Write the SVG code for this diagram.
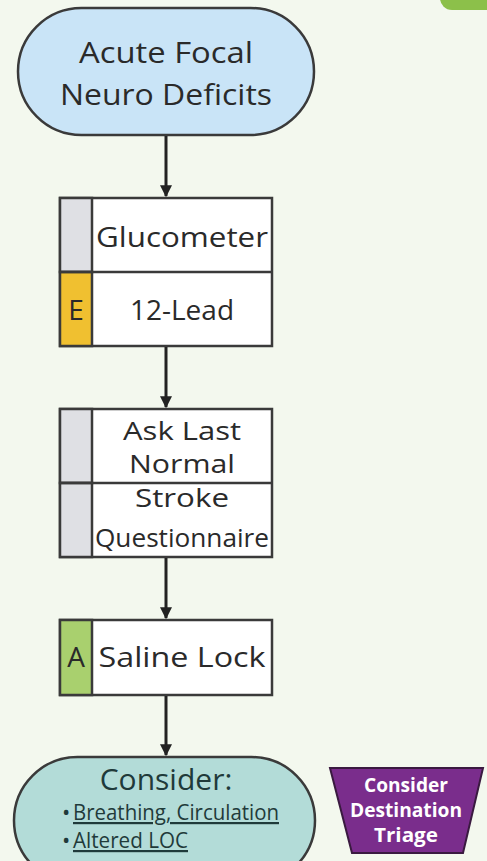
<svg xmlns="http://www.w3.org/2000/svg" width="487" height="861" viewBox="0 0 487 861">
<defs>
<marker id="ah" viewBox="0 0 10 10" refX="9" refY="5" markerWidth="12" markerHeight="12" orient="auto" markerUnits="userSpaceOnUse">
<path d="M0,0 L10,5 L0,10 z" fill="#222"/>
</marker>
</defs>
<style>
.bg{fill:#f3f8ee}
.box{stroke:#3a3a3a;stroke-width:2.5}
.t{font-family:"Open Sans","Noto Sans",sans-serif;fill:#2a2a2a;text-anchor:middle}
.c{font-family:"Open Sans","Noto Sans",sans-serif;fill:#1f3a3a}
.w{font-family:"Open Sans","Noto Sans",sans-serif;fill:#fff;font-weight:bold;text-anchor:middle}
.conn{stroke:#222;stroke-width:3;fill:none}
</style>
<rect class="bg" x="0" y="0" width="487" height="861"/>
<rect x="440" y="-30" width="80" height="40" rx="12" fill="#8cc04a"/>
<g id="start">
<rect class="box" x="18" y="8" width="296" height="127" rx="63.5" fill="#c9e4f7"/>
<text class="t" x="166" y="63" font-size="29" textLength="174" lengthAdjust="spacingAndGlyphs">Acute Focal</text>
<text class="t" x="166" y="105" font-size="29" textLength="212" lengthAdjust="spacingAndGlyphs">Neuro Deficits</text>
</g>
<g id="box1">
<rect class="box" x="60" y="198" width="212" height="148" fill="#fff"/>
<rect x="60" y="198" width="32" height="74" fill="#dfe0e4" class="box"/>
<rect x="60" y="272" width="32" height="74" fill="#f0c030" class="box"/>
<line class="box" x1="60" y1="272" x2="272" y2="272"/>
<text class="t" x="182" y="247" font-size="28" textLength="172" lengthAdjust="spacingAndGlyphs">Glucometer</text>
<text class="t" x="182" y="320" font-size="28">12-Lead</text>
<text class="t" x="76" y="320" font-size="28">E</text>
</g>
<g id="box2">
<rect class="box" x="60" y="409" width="212" height="148" fill="#fff"/>
<rect x="60" y="409" width="32" height="74" fill="#dfe0e4" class="box"/>
<rect x="60" y="483" width="32" height="74" fill="#dfe0e4" class="box"/>
<line class="box" x1="60" y1="483" x2="272" y2="483"/>
<text class="t" x="182" y="440" font-size="25" textLength="118" lengthAdjust="spacingAndGlyphs">Ask Last</text>
<text class="t" x="182" y="473" font-size="25" textLength="106" lengthAdjust="spacingAndGlyphs">Normal</text>
<text class="t" x="182" y="507" font-size="25" textLength="94" lengthAdjust="spacingAndGlyphs">Stroke</text>
<text class="t" x="182" y="547" font-size="25" textLength="174" lengthAdjust="spacingAndGlyphs">Questionnaire</text>
</g>
<g id="box3">
<rect class="box" x="60" y="620" width="212" height="75" fill="#fff"/>
<rect x="60" y="620" width="32" height="75" fill="#a9d06e" class="box"/>
<text class="t" x="76" y="667" font-size="28">A</text>
<text class="t" x="182" y="667" font-size="28" textLength="167" lengthAdjust="spacingAndGlyphs">Saline Lock</text>
</g>
<g id="consider">
<rect class="box" x="14" y="757" width="301" height="127" rx="63.5" fill="#b3dcd8"/>
<text class="c" x="166" y="790" font-size="30" text-anchor="middle">Consider:</text>
<text class="c" x="62" y="820" font-size="22">•</text>
<text class="c" x="73" y="820" font-size="22" text-decoration="underline" textLength="206" lengthAdjust="spacingAndGlyphs">Breathing, Circulation</text>
<text class="c" x="62" y="848" font-size="22">•</text>
<text class="c" x="73" y="848" font-size="22" text-decoration="underline" textLength="115" lengthAdjust="spacingAndGlyphs">Altered LOC</text>
</g>
<g id="triage">
<polygon points="330,768 483,768 463,853 352,853" fill="#7a2d8c" stroke="#3a1a40" stroke-width="2"/>
<text class="w" x="406" y="792" font-size="19" textLength="84" lengthAdjust="spacingAndGlyphs">Consider</text>
<text class="w" x="406" y="817" font-size="19" textLength="112" lengthAdjust="spacingAndGlyphs">Destination</text>
<text class="w" x="406" y="842" font-size="19" textLength="64" lengthAdjust="spacingAndGlyphs">Triage</text>
</g>
<g id="connectors">
<line class="conn" x1="166" y1="136" x2="166" y2="196" marker-end="url(#ah)"/>
<line class="conn" x1="166" y1="347" x2="166" y2="407" marker-end="url(#ah)"/>
<line class="conn" x1="166" y1="558" x2="166" y2="618" marker-end="url(#ah)"/>
<line class="conn" x1="166" y1="696" x2="166" y2="755" marker-end="url(#ah)"/>
</g>
</svg>
